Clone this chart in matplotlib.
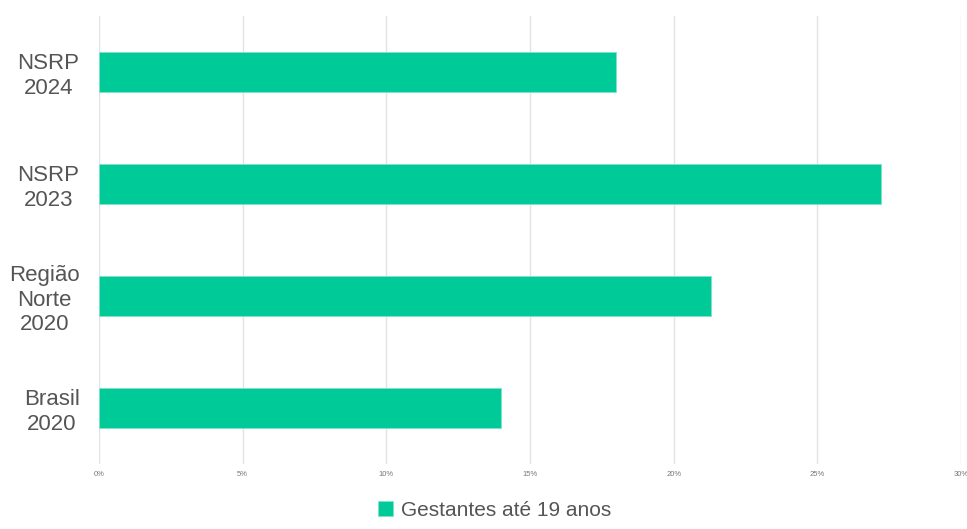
import matplotlib.pyplot as plt
from matplotlib.ticker import FuncFormatter

categories = ["Brasil\n2020", "Região\nNorte\n2020", "NSRP\n2023", "NSRP\n2024"]
values = [14.0, 21.3, 27.2, 18.0]
series_name = "Gestantes até 19 anos"
xticks = [0, 5, 10, 15, 20, 25, 30]

plt.rcParams["font.family"] = ["Liberation Sans", "DejaVu Sans"]

fig = plt.figure(figsize=(9.67, 5.29), dpi=100)
ax = fig.add_axes([0.1024, 0.1229, 0.8914, 0.8469])

ax.barh(range(len(categories)), values, height=0.36, color="#00CA98",
        edgecolor="#7fe3c9", linewidth=0.6, label=series_name, zorder=2)

ax.set_xlim(0, 30)
ax.set_ylim(-0.5, len(categories) - 0.5)
ax.set_xticks(xticks)
ax.xaxis.set_major_formatter(FuncFormatter(lambda v, p: f"{v:.0f}%"))
ax.set_yticks(range(len(categories)))
ax.set_yticklabels(categories, fontsize=16, color="#555555", multialignment="center")
ax.tick_params(axis="y", length=0, pad=14)
ax.tick_params(axis="x", length=0, pad=5, labelsize=5.5, labelcolor="#777777")
ax.grid(axis="x", color="#e3e3e3", linewidth=1, zorder=0)
for s in ax.spines.values():
    s.set_visible(False)

ax.legend(loc="upper center", bbox_to_anchor=(0.459, -0.05), frameon=False,
          fontsize=15, handlelength=0.7, handleheight=0.7, handletextpad=0.4,
          borderpad=0.2, labelcolor="#555555")

fig.savefig("out.png", dpi=100)
